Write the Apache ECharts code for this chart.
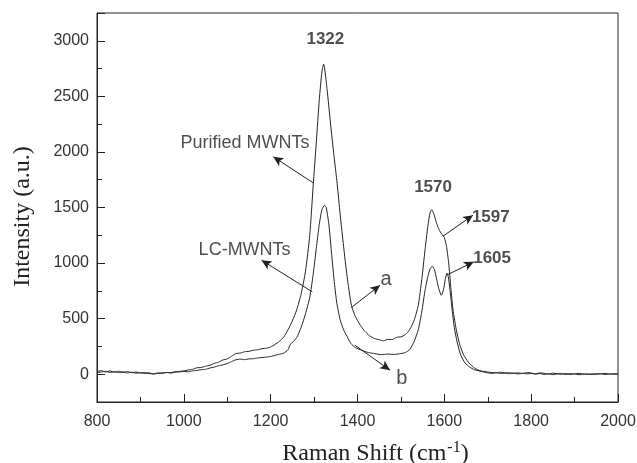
<!DOCTYPE html>
<html>
<head>
<meta charset="utf-8">
<script src="https://cdn.jsdelivr.net/npm/echarts@6/dist/echarts.min.js"></script>
<style>
  html, body {margin: 0; padding: 0; background: #fff;}
  #chart {width: 637px; height: 463px;}
</style>
</head>
<body>
<div id="chart"></div>
<script>
// Raman shift (cm-1) and intensity, curve a: Purified MWNTs
const shiftA = [
  800, 810, 820, 830, 840, 850, 860, 870, 880, 890, 900, 910, 920, 930, 940, 950, 960, 970, 980, 990,
  1000, 1010, 1020, 1030, 1040, 1050, 1060, 1070, 1080, 1090, 1100, 1110, 1120, 1130, 1140, 1150, 1160, 1170, 1180, 1190,
  1200, 1210, 1220, 1230, 1240, 1250, 1260, 1270, 1280, 1290, 1298, 1305, 1312, 1318, 1322, 1330, 1338, 1346, 1353, 1360,
  1368, 1376, 1386, 1395, 1405, 1415, 1428, 1440, 1450, 1460, 1470, 1480, 1490, 1500, 1510, 1520, 1530, 1540, 1548,
  1555, 1562, 1567, 1571, 1576, 1582, 1588, 1594, 1600, 1605, 1610, 1615, 1620, 1628, 1636, 1645, 1655, 1665, 1675, 1685,
  1700, 1710, 1720, 1730, 1740, 1750, 1760, 1770, 1780, 1790, 1800, 1810, 1820, 1830, 1840, 1850, 1860, 1870, 1880, 1890,
  1900, 1910, 1920, 1930, 1940, 1950, 1960, 1970, 1980, 1990, 2000
]
const intensA = [
  25, 32, 20, 30, 18, 27, 16, 24, 14, 20, 10, 16, 6, 3, 11, 9, 16, 14, 22, 26,
  30, 38, 44, 58, 60, 72, 80, 98, 108, 128, 138, 162, 186, 190, 202, 206, 216, 220, 230, 234,
  245, 268, 295, 335, 400, 480, 580, 720, 920, 1250, 1700, 2080, 2470, 2720, 2790, 2560, 2250, 1960, 1720, 1440,
  1150, 880, 620, 520, 450, 395, 345, 320, 310, 300, 314, 312, 332, 336, 356, 400, 480, 620, 850,
  1100, 1330, 1450, 1480, 1440, 1360, 1300, 1260, 1230, 1150, 1000, 780, 580, 390, 260, 170, 110, 70, 42, 30,
  20, 15, 12, 18, 10, 14, 8, 12, 6, 15, 10, 5, 12, 8, 0, 10, 4, 8, -2, 6,
  2, 8, 0, 5, -3, 6, 2, 8, 0, 5, 2
]

// curve b: LC-MWNTs
const shiftB = [
  800, 810, 820, 830, 840, 850, 860, 870, 880, 890, 900, 910, 920, 930, 940, 950, 960, 970, 980, 990,
  1000, 1010, 1020, 1030, 1040, 1050, 1060, 1070, 1080, 1090, 1100, 1110, 1120, 1130, 1140, 1150, 1160, 1170, 1180, 1190,
  1200, 1210, 1220, 1230, 1240, 1245, 1250, 1260, 1270, 1280, 1290, 1298, 1305, 1312, 1318, 1324, 1328, 1334, 1340, 1346,
  1352, 1360, 1368, 1376, 1385, 1395, 1410, 1425, 1440, 1455, 1470, 1485, 1500, 1510, 1520, 1530, 1540, 1548, 1555, 1562,
  1568, 1573, 1578, 1583, 1588, 1593, 1598, 1602, 1606, 1609, 1613, 1618, 1623, 1630, 1638, 1648, 1658, 1670, 1685,
  1700, 1710, 1720, 1730, 1740, 1750, 1760, 1770, 1780, 1790, 1800, 1810, 1820, 1830, 1840, 1850, 1860, 1870, 1880, 1890,
  1900, 1910, 1920, 1930, 1940, 1950, 1960, 1970, 1980, 1990, 2000
]
const intensB = [
  15, 20, 26, 17, 22, 14, 21, 11, 18, 9, 14, 7, 12, 2, 8, 10, 15, 11, 18, 20,
  25, 21, 30, 34, 41, 44, 56, 64, 76, 84, 96, 114, 130, 136, 131, 138, 139, 146, 150, 154,
  160, 170, 180, 190, 220, 268, 285, 330, 420, 540, 690, 900, 1130, 1350, 1480, 1520, 1500, 1350, 1100, 850,
  650, 490, 400, 340, 275, 240, 215, 195, 185, 176, 181, 178, 186, 195, 220, 290, 400, 560, 740, 880,
  955, 970, 930, 840, 760, 710, 760, 850, 910, 880, 760, 580, 420, 280, 170, 100, 65, 40, 25,
  12, 8, 14, 6, 12, 4, 10, 2, 9, 3, 8, 0, 6, -2, 5, -4, 3, -2, 6, -3,
  4, -5, 2, -4, 3, -2, 5, -3, 4, -1, 2
]

const xTicks = [800, 1000, 1200, 1400, 1600, 1800, 2000]

// annotation texts and where they sit (data units)
const noteText = ['1322', '1570', '1597', '1605', 'a', 'b', 'Purified MWNTs', 'LC-MWNTs']
const noteX = [1326, 1574, 1707, 1710, 1466, 1502, 1141, 1140]
const noteY = [3012, 1680, 1413, 1041, 852, -39, 2076, 1116]

// arrows: start on a curve, head at the text
const arrowFrom = [[1298, 1722], [1296, 741], [1386, 600], [1394, 261], [1597, 1242], [1605, 891]]
const arrowTo = [[1206, 1956], [1179, 1026], [1452, 801], [1475, 36], [1666, 1431], [1668, 1011]]

const zip = (xs, ys) => xs.map((x, i) => [x, ys[i]])

const chart = echarts.init(document.getElementById('chart'))

const noteStyle = (t) => {
  if (/^\d+$/.test(t)) return {fontSize: 17, fontWeight: 'bold'}
  if (t.length === 1) return {fontSize: 20, fontWeight: 'normal'}
  return {fontSize: 18, fontWeight: 'normal'}
}

const lineColor = '#222'

chart.setOption({
  animation: false,
  grid: {
    left: 97, right: 19, top: 13, bottom: 61,
    outerBoundsMode: 'none',
    show: true, borderColor: lineColor, borderWidth: 1,
  },
  xAxis: {
    type: 'value',
    min: 800, max: 2000, interval: 200,
    name: '{a|Raman Shift (cm}{s|-1}{a|)}',
    nameLocation: 'middle',
    nameGap: 38,
    nameTextStyle: {
      padding: [0, 0, 0, 36],
      rich: {
        a: {fontFamily: 'Liberation Serif', fontSize: 24, color: '#222'},
        s: {fontFamily: 'Liberation Serif', fontSize: 16, color: '#222', padding: [0, 0, 12, 1]},
      },
    },
    axisLine: {onZero: false, lineStyle: {color: lineColor, width: 1}},
    axisTick: {inside: true, length: 8, lineStyle: {color: lineColor}},
    minorTick: {show: true, splitNumber: 2, length: 5, lineStyle: {color: lineColor}},
    splitLine: {show: false},
    axisLabel: {
      fontFamily: 'Liberation Sans', fontSize: 16, color: '#333', margin: 12,
      formatter: (v) => xTicks.includes(v) ? String(v) : '',
    },
  },
  yAxis: {
    type: 'value',
    min: -250, max: 3250, splitNumber: 7,
    name: 'Intensity (a.u.)',
    nameLocation: 'middle',
    nameGap: 62,
    nameTextStyle: {fontFamily: 'Liberation Serif', fontSize: 24, color: '#222', padding: [0, 18, 0, 0]},
    axisLine: {show: true, onZero: false, lineStyle: {color: lineColor, width: 1}},
    axisTick: {inside: true, length: 8, lineStyle: {color: lineColor}},
    minorTick: {show: true, splitNumber: 2, length: 5, lineStyle: {color: lineColor}},
    splitLine: {show: false},
    axisLabel: {
      fontFamily: 'Liberation Sans', fontSize: 16, color: '#333', margin: 8,
      showMinLabel: false, showMaxLabel: false,
      formatter: (v) => String(v),
    },
  },
  series: [
    {
      name: 'Purified MWNTs',
      type: 'line',
      data: zip(shiftA, intensA),
      showSymbol: false,
      smooth: 0.2,
      lineStyle: {color: lineColor, width: 1},
      markLine: {
        silent: true,
        symbol: ['none', 'arrow'],
        symbolSize: [7, 10],
        label: {show: false},
        lineStyle: {color: lineColor, width: 1, type: 'solid'},
        data: arrowFrom.map((p, i) => [{coord: p}, {coord: arrowTo[i]}]),
      },
    },
    {
      name: 'LC-MWNTs',
      type: 'line',
      data: zip(shiftB, intensB),
      showSymbol: false,
      smooth: 0.2,
      lineStyle: {color: lineColor, width: 1},
    },
    {
      type: 'scatter',
      symbolSize: 0,
      silent: true,
      data: noteText.map((t, i) => ({
        value: [noteX[i], noteY[i]],
        label: {
          show: true,
          position: 'inside',
          formatter: t,
          fontFamily: 'Liberation Sans',
          color: '#222',
          ...noteStyle(t),
        },
      })),
    },
  ],
})
</script>
</body>
</html>
